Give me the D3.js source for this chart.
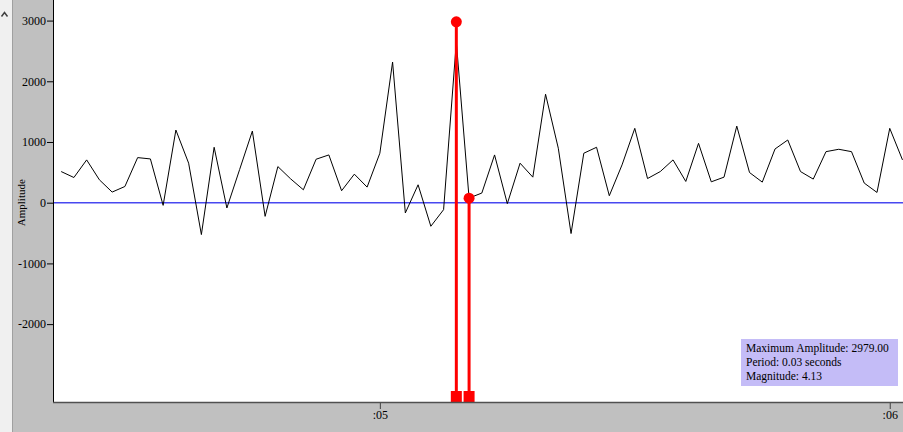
<!DOCTYPE html>
<html><head><meta charset="utf-8">
<script src="https://cdn.jsdelivr.net/npm/d3@7"></script>
<style>
html,body{margin:0;padding:0;background:#c0c0c0;}
svg{display:block;font-family:"Liberation Serif","Times New Roman",serif;}
</style></head>
<body>
<svg id="chart" width="903" height="432"></svg>
<script>
// ---- data ----
const sampleStart = 0.04375;     // seconds
const samplePeriod = 0.00025;    // seconds between samples
const amplitudes = [513,415,705,377,175,267,743,721,-44,1197,651,-525,913,-87,546,1180,-225,595,393,213,716,787,197,470,257,815,2317,-169,295,-388,-115,2645,77,159,787,-16,651,421,1787,897,-508,815,913,115,623,1225,398,513,705,350,978,344,421,1262,497,339,885,1033,513,389,841,880,841,323,169,1225,705];
const markerIndex = [31, 32];
const markerValues = [2979, 75];
const yTicks = [3000, 2000, 1000, 0, -1000, -2000];
const xTicks = [0.05, 0.06];
const xTickLabels = [":05", ":06"];
const infoLines = ["Maximum Amplitude: 2979.00", "Period: 0.03 seconds", "Magnitude: 4.13"];

// ---- layout ----
const W = 903, H = 432;
const plot = {left: 53, right: 903, top: 0, bottom: 402};
const svg = d3.select("#chart");

const x = d3.scaleLinear().domain([0.04359, 0.06026]).range([plot.left, plot.right]);
const y = d3.scaleLinear().domain([3339, -3283]).range([plot.top, plot.bottom]);
const tOf = i => sampleStart + i * samplePeriod;

// background
svg.append("rect").attr("x",0).attr("y",0).attr("width",W).attr("height",H).attr("fill","#c0c0c0");
// left side panel
svg.append("rect").attr("x",0).attr("y",0).attr("width",12).attr("height",H).attr("fill","#f0f0f0");
svg.append("line").attr("x1",12.5).attr("x2",12.5).attr("y1",0).attr("y2",H).attr("stroke","#a0a0a0");
svg.append("path").attr("d","M1.5,16.5 L4.5,12.5 L7.5,16.5").attr("fill","none").attr("stroke","#404040").attr("stroke-width",1.5);

// plot area
svg.append("rect").attr("x",plot.left).attr("y",plot.top).attr("width",plot.right-plot.left).attr("height",plot.bottom-plot.top).attr("fill","#ffffff");

svg.append("clipPath").attr("id","pc").append("rect")
  .attr("x",plot.left).attr("y",plot.top).attr("width",plot.right-plot.left).attr("height",plot.bottom-plot.top);
const g = svg.append("g").attr("clip-path","url(#pc)");

// zero line
g.append("line").attr("x1",plot.left).attr("x2",plot.right).attr("y1",y(0)).attr("y2",y(0))
  .attr("stroke","#4848f0").attr("stroke-width",1.5);

// signal line
const line = d3.line().x((d,i)=>x(tOf(i))).y(d=>y(d));
g.append("path").datum(amplitudes).attr("d",line).attr("fill","none").attr("stroke","#000").attr("stroke-width",1);

// markers
const mk = g.selectAll("g.mk").data(markerIndex.map((idx,k)=>({t:tOf(idx), v:markerValues[k]}))).enter().append("g");
mk.append("line").attr("x1",d=>x(d.t)).attr("x2",d=>x(d.t)).attr("y1",d=>y(d.v)).attr("y2",plot.bottom)
  .attr("stroke","#ff0000").attr("stroke-width",3);
mk.append("circle").attr("cx",d=>x(d.t)).attr("cy",d=>y(d.v)).attr("r",5.5).attr("fill","#ff0000");
mk.append("rect").attr("x",d=>x(d.t)-5.5).attr("y",plot.bottom-11).attr("width",11).attr("height",11).attr("fill","#ff0000");

// y axis
const yAxis = d3.axisLeft(y).tickValues(yTicks).tickSize(6).tickPadding(1).tickFormat(d=>String(d));
const ya = svg.append("g").attr("transform",`translate(${plot.left},0)`).call(yAxis);
ya.select(".domain").remove();
ya.selectAll(".tick line").attr("stroke","#000");
ya.selectAll(".tick text").attr("font-family","Liberation Serif").attr("font-size",12).attr("fill","#000");
svg.append("line").attr("x1",plot.left+0.5).attr("x2",plot.left+0.5).attr("y1",plot.top).attr("y2",plot.bottom).attr("stroke","#000");

// x axis
const xAxis = d3.axisBottom(x).tickValues(xTicks).tickSize(7).tickPadding(1).tickFormat((d,i)=>xTickLabels[i]);
const xa = svg.append("g").attr("transform",`translate(0,${plot.bottom})`).call(xAxis);
xa.select(".domain").remove();
xa.selectAll(".tick line").attr("stroke","#404040");
xa.selectAll(".tick text").attr("font-family","Liberation Serif").attr("font-size",12).attr("fill","#000");
svg.append("line").attr("x1",plot.left).attr("x2",plot.right).attr("y1",plot.bottom+0.5).attr("y2",plot.bottom+0.5).attr("stroke","#505050").attr("stroke-width",1.5);

// y title
svg.append("text").attr("transform",`translate(25,${y(0)}) rotate(-90)`).attr("text-anchor","middle")
  .attr("font-size",11).attr("fill","#000").text("Amplitude");

// info box
const box = svg.append("g").attr("transform","translate(741,339)");
box.append("rect").attr("width",157).attr("height",47).attr("fill","#c4bcf7");
box.selectAll("text").data(infoLines).enter().append("text")
  .attr("x",5).attr("y",(d,i)=>13+i*14).attr("font-size",11.5).attr("fill","#000").text(d=>d);
</script>
</body></html>
